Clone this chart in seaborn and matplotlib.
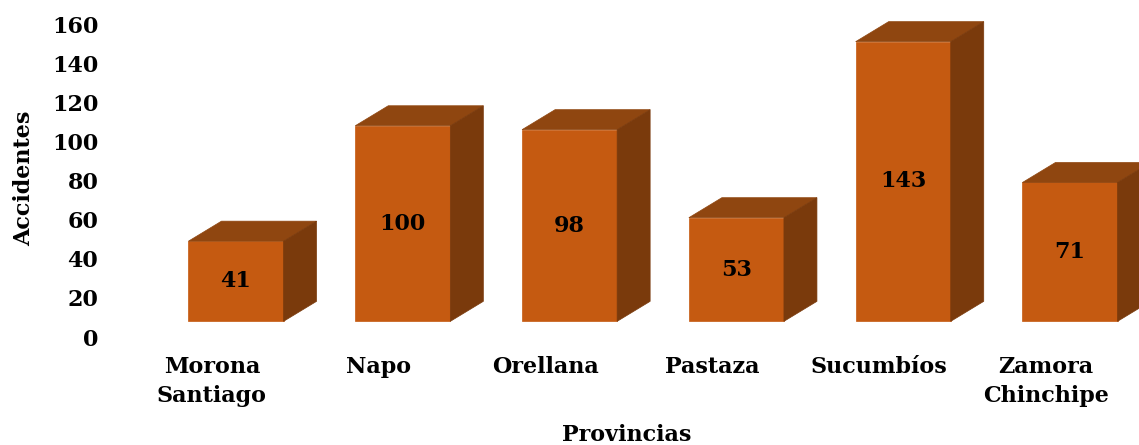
import matplotlib
matplotlib.use("Agg")
import matplotlib.pyplot as plt
from matplotlib.patches import Polygon
import seaborn as sns
import pandas as pd

provincias = ["Morona\nSantiago", "Napo", "Orellana", "Pastaza", "Sucumbíos", "Zamora\nChinchipe"]
accidentes = [41, 100, 98, 53, 143, 71]
yticks = [0, 20, 40, 60, 80, 100, 120, 140, 160]

front_color = "#C55A11"
top_color = "#8F4610"
side_color = "#7A3A0C"

sns.set_theme(style="white")
plt.rcParams["font.family"] = ["DejaVu Serif"]
plt.rcParams["font.weight"] = "bold"

W, H = 1139, 445
fig = plt.figure(figsize=(W / 100, H / 100), dpi=100)
ax_left, ax_right, ax_bottom, ax_top = 115, 1139, 337, 20
ax = fig.add_axes([ax_left / W, (H - ax_bottom) / H, (ax_right - ax_left) / W, (ax_bottom - ax_top) / H])

df = pd.DataFrame({"Provincias": provincias, "Accidentes": accidentes})
sns.barplot(data=df, x="Provincias", y="Accidentes", color=front_color, saturation=1,
            width=0.57, ax=ax, linewidth=0)

px_per_x = 166.8
px_per_y = 1.956
ax.set_xlim((ax_left - 236) / px_per_x, (ax_right - 236) / px_per_x)
ax.set_ylim(0, (ax_bottom - ax_top) / px_per_y)

base = 8.0
dx = 33 / px_per_x
dy = 20 / px_per_y

for p, v in zip(ax.patches, accidentes):
    p.set_y(base)
    p.set_facecolor(front_color)
    p.set_edgecolor(front_color)
    p.set_linewidth(0.5)
    x0 = p.get_x()
    x1 = x0 + p.get_width()
    y0 = base
    y1 = base + p.get_height()
    top = Polygon([(x0, y1), (x1, y1), (x1 + dx, y1 + dy), (x0 + dx, y1 + dy)],
                  closed=True, facecolor=top_color, edgecolor=top_color, linewidth=0.5)
    side = Polygon([(x1, y0), (x1 + dx, y0 + dy), (x1 + dx, y1 + dy), (x1, y1)],
                   closed=True, facecolor=side_color, edgecolor=side_color, linewidth=0.5)
    ax.add_patch(top)
    ax.add_patch(side)
    ax.text(x0 + p.get_width() / 2, (y0 + y1) / 2, f"{v}", ha="center", va="center",
            fontsize=16, fontweight="bold", color="black", family="DejaVu Serif")

label_shift = 24 / px_per_x
ax.set_xticks([i - label_shift for i in range(len(provincias))])
ax.set_xticklabels(provincias, fontsize=16, fontweight="bold", linespacing=1.4)
ax.set_yticks(yticks)
ax.set_yticklabels([str(t) for t in yticks], fontsize=16, fontweight="bold")

ax.tick_params(axis="x", length=0, pad=14, colors="black")
ax.tick_params(axis="y", length=0, pad=12, colors="black")
ax.set_xlabel("Provincias", fontsize=16, fontweight="bold", color="black", labelpad=12)
ax.set_ylabel("Accidentes", fontsize=16, fontweight="bold", color="black", labelpad=12)
for s in ax.spines.values():
    s.set_visible(False)
ax.grid(False)

fig.savefig("out.png", dpi=100)
